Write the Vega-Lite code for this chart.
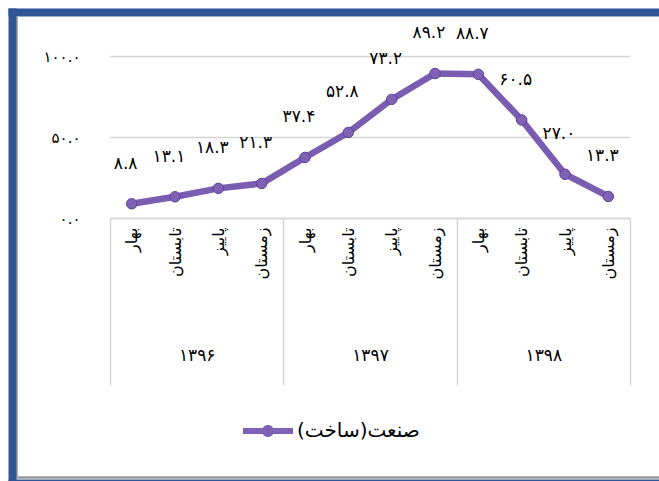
{
  "$schema": "https://vega.github.io/schema/vega-lite/v6.json",
  "width": 520,
  "height": 162,
  "autosize": {"type": "none"},
  "padding": {"left": 110, "top": 56, "right": 29, "bottom": 263},
  "background": "white",
  "config": {"view": {"stroke": null}, "font": "DejaVu Sans"},
  "data": {
    "values": [
      {"key": "1396|بهار", "year": "۱۳۹۶", "value": 8.8, "label": "۸.۸", "series": "صنعت(ساخت)"},
      {"key": "1396|تابستان", "year": "۱۳۹۶", "value": 13.1, "label": "۱۳.۱", "series": "صنعت(ساخت)"},
      {"key": "1396|پاییز", "year": "۱۳۹۶", "value": 18.3, "label": "۱۸.۳", "series": "صنعت(ساخت)"},
      {"key": "1396|زمستان", "year": "۱۳۹۶", "value": 21.3, "label": "۲۱.۳", "series": "صنعت(ساخت)"},
      {"key": "1397|بهار", "year": "۱۳۹۷", "value": 37.4, "label": "۳۷.۴", "series": "صنعت(ساخت)"},
      {"key": "1397|تابستان", "year": "۱۳۹۷", "value": 52.8, "label": "۵۲.۸", "series": "صنعت(ساخت)"},
      {"key": "1397|پاییز", "year": "۱۳۹۷", "value": 73.2, "label": "۷۳.۲", "series": "صنعت(ساخت)"},
      {"key": "1397|زمستان", "year": "۱۳۹۷", "value": 89.2, "label": "۸۹.۲", "series": "صنعت(ساخت)"},
      {"key": "1398|بهار", "year": "۱۳۹۸", "value": 88.7, "label": "۸۸.۷", "series": "صنعت(ساخت)"},
      {"key": "1398|تابستان", "year": "۱۳۹۸", "value": 60.5, "label": "۶۰.۵", "series": "صنعت(ساخت)"},
      {"key": "1398|پاییز", "year": "۱۳۹۸", "value": 27.0, "label": "۲۷.۰", "series": "صنعت(ساخت)"},
      {"key": "1398|زمستان", "year": "۱۳۹۸", "value": 13.3, "label": "۱۳.۳", "series": "صنعت(ساخت)"}
    ]
  },
  "layer": [
    {
      "mark": {"type": "line", "color": "#7A5CB0", "strokeWidth": 6.5},
      "encoding": {
        "x": {
          "field": "key", "type": "nominal", "sort": null,
          "axis": {
            "orient": "bottom", "title": null,
            "labelExpr": "split(datum.label, '|')[1]",
            "labelAngle": 270, "ticks": false, "grid": false,
            "domainColor": "#d4d4d4", "domainWidth": 1.5,
            "labelFont": "DejaVu Sans", "labelFontSize": 16, "labelColor": "#000000",
            "labelPadding": 9, "labelOverlap": false, "labelBound": false
          }
        },
        "y": {
          "field": "value", "type": "quantitative",
          "scale": {"domain": [0, 100], "nice": false},
          "axis": {
            "title": null, "values": [0, 50, 100],
            "labelExpr": "datum.value == 0 ? '۰.۰' : datum.value == 50 ? '۵۰.۰' : '۱۰۰.۰'",
            "domain": false, "ticks": false, "grid": true,
            "gridColor": "#d4d4d4", "gridWidth": 1.5,
            "labelFont": "DejaVu Sans", "labelFontSize": 15, "labelColor": "#000000",
            "labelPadding": 30
          }
        }
      }
    },
    {
      "mark": {"type": "circle", "size": 110, "opacity": 1, "stroke": "#5E4396", "strokeWidth": 1},
      "encoding": {
        "x": {"field": "key", "type": "nominal", "sort": null, "axis": null},
        "y": {"field": "value", "type": "quantitative", "scale": {"domain": [0, 100], "nice": false}, "axis": null},
        "color": {
          "field": "series", "type": "nominal",
          "scale": {"range": ["#7F62B5"]},
          "legend": {
            "title": null, "orient": "none", "legendX": 148, "legendY": 365,
            "padding": 0,
            "symbolType": "M-2.5,-0.3 L2.5,-0.3 L2.5,0.3 L-2.5,0.3 Z M0.6,0 A0.6,0.6 0 1,1 -0.6,0 A0.6,0.6 0 1,1 0.6,0 Z",
            "symbolSize": 400, "symbolStrokeWidth": 0,
            "labelFont": "DejaVu Sans", "labelFontSize": 20, "labelColor": "#000000",
            "labelOffset": 19, "labelLimit": 300
          }
        }
      }
    },
    {
      "mark": {"type": "text", "dy": -40, "dx": -6, "fontSize": 17, "font": "DejaVu Sans", "color": "#000000"},
      "encoding": {
        "x": {"field": "key", "type": "nominal", "sort": null, "axis": null},
        "y": {"field": "value", "type": "quantitative", "scale": {"domain": [0, 100], "nice": false}, "axis": null},
        "text": {"field": "label"}
      }
    },
    {
      "mark": {"type": "text", "opacity": 0},
      "encoding": {
        "x": {
          "field": "year", "type": "nominal", "sort": null,
          "scale": {"type": "band", "paddingInner": 0, "paddingOuter": 0},
          "axis": {
            "orient": "bottom", "title": null, "labelAngle": 0,
            "tickBand": "extent", "tickSize": 167, "tickColor": "#d4d4d4", "tickWidth": 1.5,
            "domain": false, "grid": false,
            "labelPadding": -38, "labelFont": "DejaVu Sans", "labelFontSize": 17, "labelColor": "#000000"
          }
        }
      }
    },
    {
      "mark": {"type": "point", "opacity": 0},
      "encoding": {
        "x": {
          "field": "value", "type": "quantitative",
          "scale": {"domain": [0, 100], "range": [-94, 600], "nice": false, "zero": false},
          "axis": {"orient": "bottom", "offset": 259, "title": null, "labels": false, "ticks": false, "grid": false,
                   "domainColor": "#9a9a9a", "domainWidth": 2.5}
        },
        "y": {
          "field": "value", "type": "quantitative",
          "scale": {"domain": [0, 100], "range": [421, -40], "nice": false, "zero": false},
          "axis": {"orient": "left", "offset": 93.5, "title": null, "labels": false, "ticks": false, "grid": false,
                   "domainColor": "#b0b0b0", "domainWidth": 2}
        }
      }
    },
    {
      "mark": {"type": "point", "opacity": 0},
      "encoding": {
        "x": {
          "field": "value", "type": "quantitative",
          "scale": {"domain": [0, 100], "range": [-98, 600], "nice": false, "zero": false},
          "axis": {"orient": "top", "offset": 44, "title": null, "labels": false, "ticks": false, "grid": false,
                   "domainColor": "#2F5597", "domainWidth": 8, "domainCap": "square"}
        },
        "y": {
          "field": "value", "type": "quantitative",
          "scale": {"domain": [0, 100], "range": [427, -44], "nice": false, "zero": false},
          "axis": {"orient": "left", "offset": 98, "title": null, "labels": false, "ticks": false, "grid": false,
                   "domainColor": "#2F5597", "domainWidth": 8, "domainCap": "square"}
        }
      }
    },
    {
      "mark": {"type": "point", "opacity": 0},
      "encoding": {
        "x": {
          "field": "value", "type": "quantitative",
          "scale": {"domain": [0, 100], "range": [-98, 600], "nice": false, "zero": false},
          "axis": {"orient": "bottom", "offset": 265, "title": null, "labels": false, "ticks": false, "grid": false,
                   "domainColor": "#2F5597", "domainWidth": 8, "domainCap": "square"}
        }
      }
    }
  ],
  "resolve": {"scale": {"x": "independent", "y": "independent"}}
}
